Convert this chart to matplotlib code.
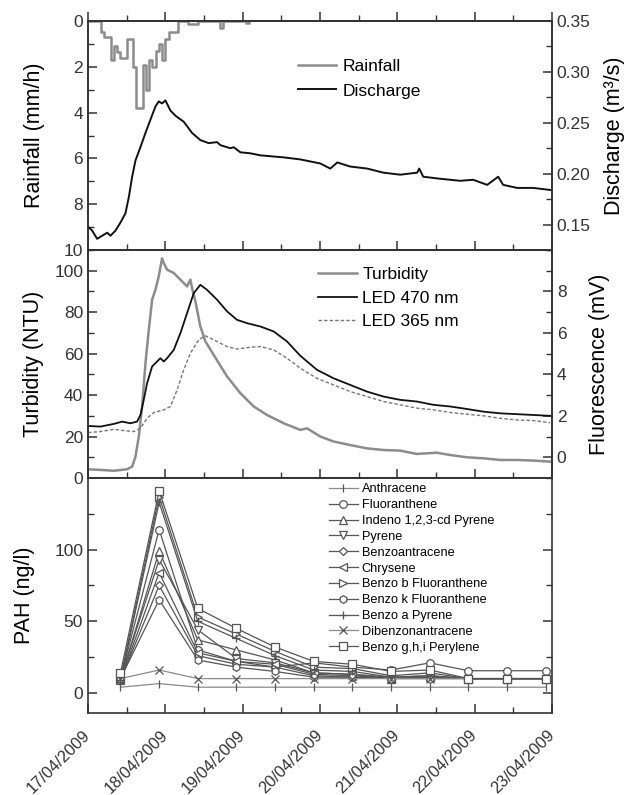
import matplotlib
matplotlib.use('Agg')
import matplotlib.pyplot as plt
from matplotlib.ticker import MultipleLocator, FixedLocator, FormatStrFormatter

plt.rcParams['font.family'] = ['Liberation Sans', 'DejaVu Sans']
plt.rcParams['axes.linewidth'] = 1.2
plt.rcParams['axes.edgecolor'] = '#333333'
plt.rcParams['xtick.color'] = '#333333'
plt.rcParams['ytick.color'] = '#333333'

# ---------------- data ----------------
date_labels = ['17/04/2009', '18/04/2009', '19/04/2009', '20/04/2009',
               '21/04/2009', '22/04/2009', '23/04/2009']
date_ticks = [0, 1, 2, 3, 4, 5, 6]

rain_hour = [0, 1, 2, 3, 4, 5, 6, 7, 8, 9, 10, 11, 12, 13, 14, 15, 16, 17, 18, 19,
             20, 21, 22, 23, 24, 25, 26, 27, 28, 29, 30, 31, 32, 33, 34, 35, 36, 37,
             38, 39, 40, 41, 42, 43, 44, 45, 46, 47, 48, 49, 50]
rain_mm_h = [0, 0, 0, 0, 0.5, 0.7, 0.7, 1.7, 1.1, 1.35, 1.6, 1.6, 0.8, 0.8, 2.0, 3.8,
             3.8, 1.9, 3.0, 1.7, 2.0, 1.3, 1.0, 1.7, 0.8, 0.5, 0.5, 0.5, 0, 0, 0, 0.15,
             0.15, 0.15, 0, 0, 0, 0, 0, 0, 0, 0.3, 0, 0, 0, 0, 0, 0, 0, 0.1, 0]

discharge_day = [0, 0.054, 0.118, 0.183, 0.248, 0.291, 0.355, 0.42, 0.484, 0.528,
                 0.571, 0.614, 0.678, 0.743, 0.807, 0.872, 0.915, 0.958, 1.001,
                 1.066, 1.13, 1.238, 1.346, 1.453, 1.561, 1.669, 1.712, 1.841, 1.884,
                 1.97, 2.1, 2.229, 2.53, 2.745, 3.004, 3.133, 3.223, 3.391, 3.611,
                 3.818, 4.037, 4.257, 4.283, 4.335, 4.554, 4.813, 4.981, 5.162,
                 5.304, 5.368, 5.549, 5.756, 5.976]
discharge_m3s = [0.148, 0.144, 0.136, 0.139, 0.142, 0.139, 0.144, 0.152, 0.161, 0.177,
                 0.197, 0.213, 0.226, 0.240, 0.253, 0.266, 0.271, 0.269, 0.272,
                 0.262, 0.257, 0.251, 0.240, 0.233, 0.230, 0.231, 0.228, 0.225, 0.226,
                 0.221, 0.220, 0.218, 0.216, 0.214, 0.210, 0.205, 0.211, 0.207, 0.205,
                 0.201, 0.199, 0.201, 0.205, 0.197, 0.195, 0.193, 0.194, 0.189,
                 0.197, 0.189, 0.186, 0.186, 0.184]

turb_day = [0, 0.161, 0.334, 0.506, 0.571, 0.614, 0.657, 0.700, 0.743, 0.786, 0.829,
            0.872, 0.915, 0.958, 0.980, 1.023, 1.109, 1.195, 1.281, 1.324, 1.346,
            1.389, 1.453, 1.518, 1.625, 1.798, 1.970, 2.143, 2.315, 2.530, 2.745,
            2.831, 3.004, 3.176, 3.391, 3.607, 3.822, 4.037, 4.252, 4.51, 4.683,
            4.898, 5.114, 5.329, 5.544, 5.76, 5.975]
turb_ntu = [4.2, 3.9, 3.5, 4.2, 5.5, 10.3, 20, 34.5, 55.4, 71.5, 86, 90.8, 97.3, 106,
            103.7, 100.5, 98.9, 95.7, 92.4, 95.7, 91.6, 85.2, 73.1, 65.9, 59.4, 49,
            40.9, 34.5, 30.4, 26.4, 23.2, 24, 20, 17.6, 15.9, 14.3, 13.5, 13.2, 11.6,
            12.2, 11.1, 10, 9.5, 8.7, 8.7, 8.4, 7.9]

led470_day = [0, 0.161, 0.334, 0.441, 0.549, 0.635, 0.678, 0.721, 0.764, 0.829,
              0.893, 0.936, 0.980, 1.023, 1.109, 1.195, 1.281, 1.367, 1.453, 1.539,
              1.669, 1.798, 1.927, 2.056, 2.229, 2.401, 2.573, 2.745, 2.96, 3.176,
              3.391, 3.607, 3.822, 4.037, 4.252, 4.467, 4.683, 4.898, 5.114, 5.329,
              5.544, 5.76, 5.975]
led470_mv = [1.51, 1.48, 1.61, 1.72, 1.64, 1.72, 2.04, 2.77, 3.57, 4.38, 4.62, 4.78,
             4.62, 4.78, 5.18, 5.99, 6.95, 7.92, 8.32, 8.08, 7.6, 7.04, 6.63, 6.47,
             6.31, 6.07, 5.59, 4.9, 4.22, 3.81, 3.49, 3.17, 2.93, 2.77, 2.69, 2.53,
             2.45, 2.33, 2.2, 2.12, 2.08, 2.04, 2.0]

led365_day = [0, 0.161, 0.334, 0.463, 0.592, 0.678, 0.764, 0.850, 0.980, 1.066, 1.152,
              1.238, 1.324, 1.432, 1.518, 1.625, 1.798, 1.927, 2.099, 2.229, 2.401,
              2.573, 2.745, 2.96, 3.176, 3.391, 3.607, 3.822, 4.037, 4.252, 4.467,
              4.683, 4.898, 5.114, 5.329, 5.544, 5.76, 5.975]
led365_mv = [1.19, 1.24, 1.35, 1.29, 1.24, 1.40, 1.88, 2.16, 2.29, 2.45, 3.25, 4.22,
             5.02, 5.67, 5.86, 5.67, 5.34, 5.22, 5.31, 5.34, 5.18, 4.78, 4.3, 3.81,
             3.49, 3.17, 2.93, 2.69, 2.53, 2.37, 2.29, 2.16, 2.08, 2.0, 1.88, 1.8,
             1.77, 1.67]

pah_day = [0.42, 0.92, 1.42, 1.92, 2.42, 2.92, 3.42, 3.92, 4.42, 4.92, 5.42, 5.92]
anthracene = [4, 6.5, 4, 4, 4, 4, 4, 4, 4, 4, 4, 4]
fluoranthene = [10, 114, 30, 22, 18, 21, 18, 16, 21, 15.5, 15.5, 15.5]
indeno = [9, 99, 37, 30, 23, 14, 13, 10, 11, 10, 10, 10]
pyrene = [10, 93, 44, 24, 21, 14, 13, 11, 12, 10, 10, 10]
benzoantracene = [9, 75, 26, 20, 18, 12, 11, 10, 11, 10, 10, 10]
chrysene = [9, 84, 28, 22, 20, 13, 12, 10, 11, 10, 10, 10]
benzo_b = [10, 137, 53, 41, 29, 18, 17, 12, 14, 10, 10, 10]
benzo_k = [10, 65, 23, 18, 15, 11, 11, 10, 10, 10, 10, 10]
benzo_a = [9, 133, 50, 38, 26, 16, 15, 11, 12, 10, 10, 10]
dibenzo = [10, 16, 10, 10, 10, 10, 10, 10, 10, 10, 10, 10]
benzo_ghi = [14, 141, 59, 45, 32, 22, 20, 15, 16, 10, 10, 10]

pah_series = [
    ('Anthracene', anthracene, '|'),
    ('Fluoranthene', fluoranthene, 'o'),
    ('Indeno 1,2,3-cd Pyrene', indeno, '^'),
    ('Pyrene', pyrene, 'v'),
    ('Benzoantracene', benzoantracene, 'D'),
    ('Chrysene', chrysene, '<'),
    ('Benzo b Fluoranthene', benzo_b, '>'),
    ('Benzo k Fluoranthene', benzo_k, 'h'),
    ('Benzo a Pyrene', benzo_a, '+'),
    ('Dibenzonantracene', dibenzo, 'x'),
    ('Benzo g,h,i Perylene', benzo_ghi, 's'),
]

# ---------------- figure ----------------
W, H = 627, 795
fig = plt.figure(figsize=(W / 100, H / 100), dpi=100)
L_px, R_px = 88, 552


def rect(top, bot):
    return [L_px / W, 1 - bot / H, (R_px - L_px) / W, (bot - top) / H]


ax1 = fig.add_axes(rect(21, 250))
ax2 = fig.add_axes(rect(250, 478))
ax3 = fig.add_axes(rect(478, 713))

TICK_FS = 12.5
LABEL_FS = 15.5
MAJ, MIN = 6.5, 4


def style_y(ax):
    ax.tick_params(axis='y', which='both', direction='in', labelsize=TICK_FS)
    ax.tick_params(which='major', length=MAJ, width=1.1)
    ax.tick_params(which='minor', length=MIN, width=1.0)


for ax in (ax1, ax2, ax3):
    ax.set_xlim(0, 6)
    ax.set_xticks(date_ticks)
    ax.xaxis.set_minor_locator(MultipleLocator(0.5))
    ax.tick_params(axis='x', which='both', direction='in', top=False, bottom=True)
    style_y(ax)

ax1.tick_params(axis='x', labelbottom=False)
ax2.tick_params(axis='x', labelbottom=False)

# top outward ticks on upper panel
sec = ax1.secondary_xaxis('top')
sec.set_xticks(date_ticks)
sec.xaxis.set_minor_locator(MultipleLocator(0.5))
sec.tick_params(which='both', direction='out', labeltop=False)
sec.tick_params(which='major', length=MAJ, width=1.1)
sec.tick_params(which='minor', length=MIN, width=1.0)

# ---- panel 1: rainfall + discharge
rain_x = [h / 24 for h in rain_hour]
l_rain, = ax1.step(rain_x, rain_mm_h, where='post', color='#8c8c8c', lw=1.8,
                   label='Rainfall')
ax1.set_ylim(10, 0)
ax1.yaxis.set_major_locator(MultipleLocator(2))
ax1.yaxis.set_minor_locator(MultipleLocator(1))
ax1.set_ylabel('Rainfall (mm/h)', fontsize=LABEL_FS)
ax1.yaxis.set_label_coords(-0.093, 0.5)

ax1b = ax1.twinx()
l_q, = ax1b.plot(discharge_day, discharge_m3s, color='#111111', lw=1.4,
                 label='Discharge')
ax1b.set_ylim(0.125, 0.35)
ax1b.yaxis.set_major_locator(FixedLocator([0.15, 0.20, 0.25, 0.30, 0.35]))
ax1b.yaxis.set_minor_locator(MultipleLocator(0.025))
ax1b.yaxis.set_major_formatter(FormatStrFormatter('%.2f'))
style_y(ax1b)
ax1b.set_ylabel('Discharge (m³/s)', fontsize=LABEL_FS)
ax1b.yaxis.set_label_coords(1.113, 0.5)
ax1b.legend([l_rain, l_q], ['Rainfall', 'Discharge'], loc='upper left',
            bbox_to_anchor=(0.453, 0.834), frameon=False, fontsize=12.5,
            borderpad=0, borderaxespad=0, handlelength=2.2, handletextpad=0.35,
            labelspacing=0.53)

# ---- panel 2: turbidity + fluorescence
l_t, = ax2.plot(turb_day, turb_ntu, color='#8c8c8c', lw=1.8, label='Turbidity')
ax2.set_ylim(0, 110)
ax2.yaxis.set_major_locator(FixedLocator([0, 20, 40, 60, 80, 100]))
ax2.yaxis.set_minor_locator(MultipleLocator(10))
ax2.set_ylabel('Turbidity (NTU)', fontsize=LABEL_FS)
ax2.yaxis.set_label_coords(-0.095, 0.5)

ax2b = ax2.twinx()
l_470, = ax2b.plot(led470_day, led470_mv, color='#111111', lw=1.3, label='LED 470 nm')
l_365, = ax2b.plot(led365_day, led365_mv, color='#777777', lw=1.0,
                   linestyle=(0, (2.5, 1.5)), label='LED 365 nm')
ax2b.set_ylim(-1, 10)
ax2b.yaxis.set_major_locator(FixedLocator([0, 2, 4, 6, 8]))
ax2b.yaxis.set_minor_locator(MultipleLocator(1))
style_y(ax2b)
ax2b.set_ylabel('Fluorescence (mV)', fontsize=LABEL_FS)
ax2b.yaxis.set_label_coords(1.08, 0.5)
ax2b.legend([l_t, l_470, l_365], ['Turbidity', 'LED 470 nm', 'LED 365 nm'],
            loc='upper left', bbox_to_anchor=(0.496, 0.925), frameon=False,
            fontsize=12.5, borderpad=0, borderaxespad=0, handlelength=2.25,
            handletextpad=0.3, labelspacing=0.48)

# ---- panel 3: PAH
handles = []
for name, vals, mk in pah_series:
    light = name in ('Anthracene', 'Dibenzonantracene')
    lc = '#8a8a8a' if light else '#555555'
    ms = 5.5
    if mk == 'D':
        ms = 4.5
    if mk in ('|', '+', 'x'):
        ms = 6
    h, = ax3.plot(pah_day, vals, color=lc, lw=0.9, marker=mk, markersize=ms,
                  markerfacecolor='white', markeredgecolor='#555555',
                  markeredgewidth=0.9, label=name)
    handles.append(h)
ax3.set_ylim(-14, 150)
ax3.yaxis.set_major_locator(FixedLocator([0, 50, 100]))
ax3.yaxis.set_minor_locator(FixedLocator([25, 75, 125]))
ax3.tick_params(axis='y', which='both', right=True)
ax3.set_ylabel('PAH (ng/l)', fontsize=LABEL_FS)
ax3.yaxis.set_label_coords(-0.114, 0.5)
ax3.legend(handles=handles, loc='upper left', bbox_to_anchor=(0.519, 0.977),
           frameon=False, fontsize=9.2, borderpad=0, borderaxespad=0,
           handlelength=2.27, handletextpad=0.3, labelspacing=0.3)

ax3.set_xticklabels(date_labels, rotation=45, ha='right', va='center',
                    rotation_mode='anchor', fontsize=11.8)
ax3.tick_params(axis='x', which='major', pad=14)

fig.savefig('out.png', dpi=100)
